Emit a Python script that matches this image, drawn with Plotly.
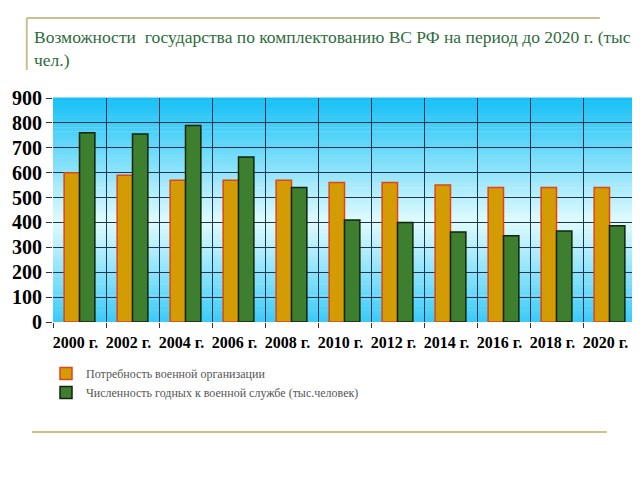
import plotly.graph_objects as go

years = ["2000 г.", "2002 г.", "2004 г.", "2006 г.", "2008 г.", "2010 г.",
         "2012 г.", "2014 г.", "2016 г.", "2018 г.", "2020 г."]
need = [600, 590, 570, 570, 570, 560, 560, 550, 540, 540, 540]
fit = [760, 755, 790, 663, 540, 410, 400, 362, 347, 366, 387]

name_need = "Потребность военной организации"
name_fit = "Численность годных к военной службе (тыс.человек)"
title = ("Возможности  государства по комплектованию ВС РФ на период до 2020 г. (тыс"
         "<br>чел.)")

serif = "Liberation Serif"

fig = go.Figure()
fig.add_trace(go.Bar(x=years, y=need, name=name_need,
                     marker=dict(color="#d39c05", line=dict(color="#e0441a", width=1.5))))
fig.add_trace(go.Bar(x=years, y=fit, name=name_fit,
                     marker=dict(color="#3d7f2e", line=dict(color="#10240c", width=1.5))))

# vertical gradient background: blue at top/bottom, pale in the middle
shapes = []
n = 60
top_c = (22, 192, 246)
mid_c = (225, 252, 255)
for i in range(n):
    t = (i + 0.5) / n
    d = min(abs(t - 0.45) / 0.55, 1.0)
    c = tuple(int(mid_c[k] + (top_c[k] - mid_c[k]) * d) for k in range(3))
    shapes.append(dict(type="rect", xref="paper", yref="paper",
                       x0=0, x1=1, y0=i / n, y1=(i + 1) / n + 0.002,
                       fillcolor="rgb(%d,%d,%d)" % c, line=dict(width=0), layer="below"))

# decorative frame lines
gold = "#cdbf8c"
shapes += [
    dict(type="line", xref="paper", yref="paper", x0=-0.045, x1=0.938, y0=1.357, y1=1.357,
         line=dict(color=gold, width=2)),
    dict(type="line", xref="paper", yref="paper", x0=-0.045, x1=-0.045, y0=1.357, y1=1.125,
         line=dict(color=gold, width=2)),
    dict(type="line", xref="paper", yref="paper", x0=-0.036, x1=0.95, y0=-0.491, y1=-0.491,
         line=dict(color=gold, width=2)),
]

# page body has an 8px margin, so the figure is a bit smaller than the window
fig.update_layout(
    width=632, height=472,
    margin=dict(l=45, r=4, t=90, b=158, autoexpand=False),
    paper_bgcolor="white",
    plot_bgcolor="rgba(0,0,0,0)",
    barmode="group",
    bargap=0.42,
    bargroupgap=0,
    shapes=shapes,
    showlegend=True,
    legend=dict(x=-0.012, y=-0.165, xanchor="left", yanchor="top", orientation="v",
                font=dict(family=serif, size=12, color="#555"),
                tracegroupgap=2, itemwidth=30, bgcolor="rgba(0,0,0,0)"),
    annotations=[dict(text=title, xref="paper", yref="paper", x=-0.036, y=1.325,
                      xanchor="left", yanchor="top", align="left", showarrow=False,
                      font=dict(family=serif, size=17.5, color="#2e6b3c"))],
)
fig.update_xaxes(
    tickson="boundaries", showgrid=True, gridcolor="#1c3550", gridwidth=1,
    ticks="outside", ticklen=5, tickcolor="#333", ticklabelshift=-4, tickangle=0,
    ticklabelstandoff=9,
    tickfont=dict(family=serif, size=16, color="black", weight="bold"),
    showline=False, automargin=False,
)
fig.update_yaxes(
    range=[0, 900], dtick=100, showgrid=True, gridcolor="#1c3550", gridwidth=1,
    ticks="outside", ticklen=6, tickcolor="#333",
    tickfont=dict(family=serif, size=20, color="black", weight="bold"),
    zeroline=False, showline=False, automargin=False,
)

fig.write_html("out.html")
